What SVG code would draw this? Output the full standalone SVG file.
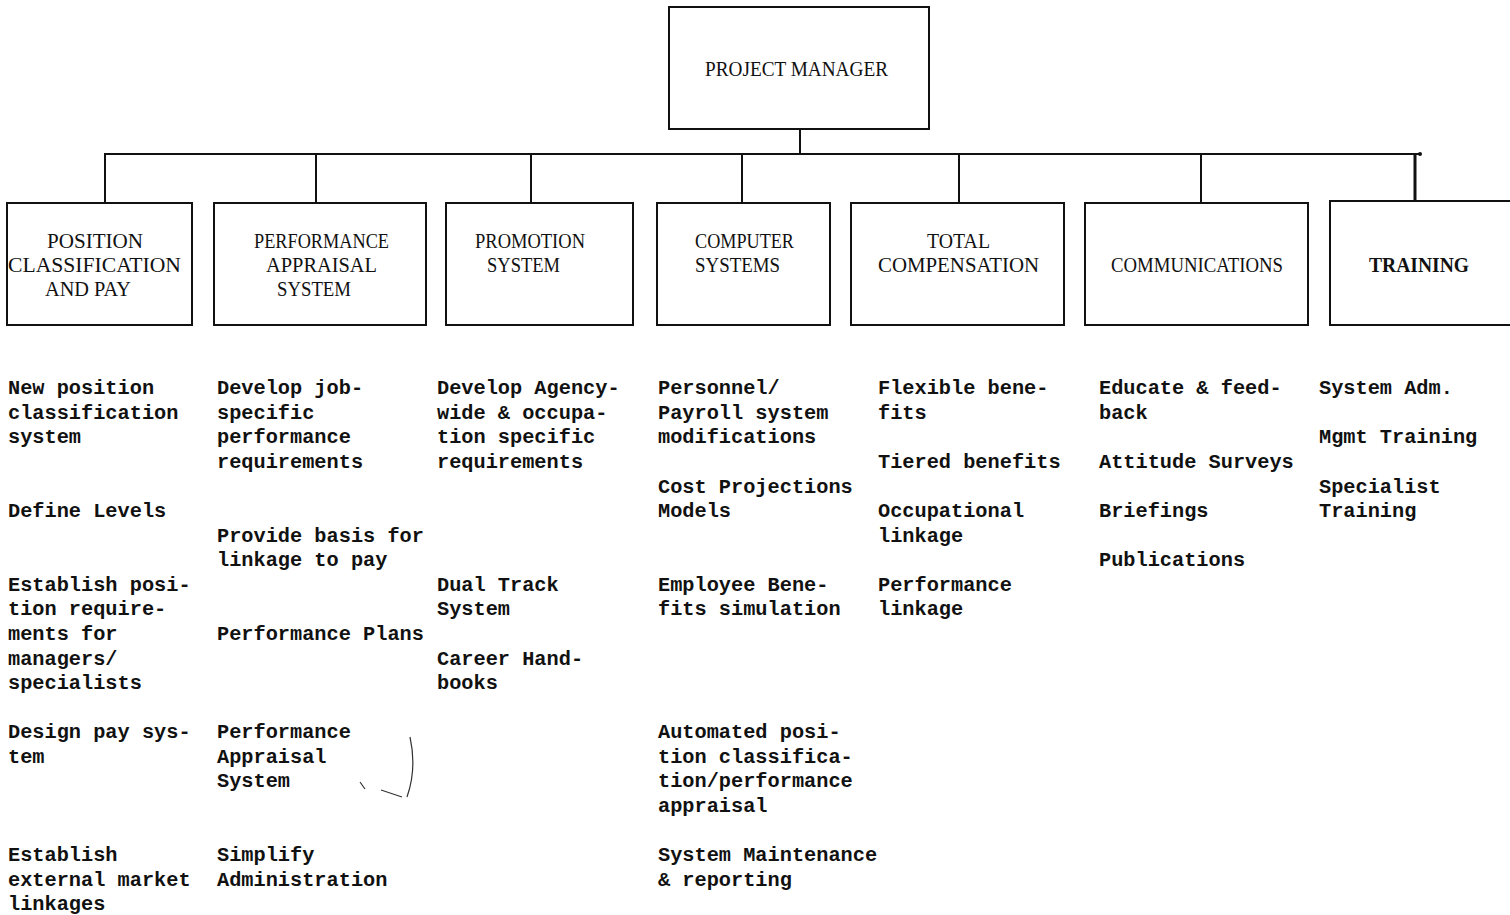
<svg xmlns="http://www.w3.org/2000/svg" width="1510" height="915" viewBox="0 0 1510 915">
<style>
.box{fill:#fff;stroke:#111;stroke-width:2}
.ln{stroke:#111;stroke-width:2;fill:none}
.t{font-family:"Liberation Serif","Times New Roman",serif;font-size:21px;fill:#111}
.b{font-family:"Liberation Mono","Courier New",monospace;font-size:20.3px;font-weight:bold;fill:#111}
</style>
<rect width="1510" height="915" fill="#fff"/>
<g id="connectors">
<line class="ln" x1="800" y1="129" x2="800" y2="154"/>
<line class="ln" x1="104" y1="154" x2="1421" y2="154"/>
<circle cx="1420" cy="154" r="2" fill="#111"/>
<line class="ln" x1="105" y1="154" x2="105" y2="203"/>
<line class="ln" x1="316" y1="154" x2="316" y2="203"/>
<line class="ln" x1="531" y1="154" x2="531" y2="203"/>
<line class="ln" x1="742" y1="154" x2="742" y2="203"/>
<line class="ln" x1="959" y1="154" x2="959" y2="203"/>
<line class="ln" x1="1201" y1="154" x2="1201" y2="203"/>
<line class="ln" x1="1415" y1="154" x2="1415" y2="200" style="stroke-width:3"/>
</g>
<g id="project-manager">
<rect class="box" x="669" y="7" width="260" height="122"/>
<text class="t" x="705" y="76" textLength="183" lengthAdjust="spacingAndGlyphs">PROJECT MANAGER</text>
</g>
<g id="position-classification">
<rect class="box" x="7" y="203" width="185" height="122"/>
<text class="t" x="47" y="248" textLength="96" lengthAdjust="spacingAndGlyphs">POSITION</text>
<text class="t" x="8" y="272" textLength="173" lengthAdjust="spacingAndGlyphs">CLASSIFICATION</text>
<text class="t" x="45" y="296" textLength="86" lengthAdjust="spacingAndGlyphs">AND PAY</text>
</g>
<g id="performance-appraisal">
<rect class="box" x="214" y="203" width="212" height="122"/>
<text class="t" x="254" y="248" textLength="135" lengthAdjust="spacingAndGlyphs">PERFORMANCE</text>
<text class="t" x="266" y="272" textLength="111" lengthAdjust="spacingAndGlyphs">APPRAISAL</text>
<text class="t" x="277" y="296" textLength="74" lengthAdjust="spacingAndGlyphs">SYSTEM</text>
</g>
<g id="promotion-system">
<rect class="box" x="446" y="203" width="187" height="122"/>
<text class="t" x="475" y="248" textLength="110" lengthAdjust="spacingAndGlyphs">PROMOTION</text>
<text class="t" x="487" y="272" textLength="73" lengthAdjust="spacingAndGlyphs">SYSTEM</text>
</g>
<g id="computer-systems">
<rect class="box" x="657" y="203" width="173" height="122"/>
<text class="t" x="695" y="248" textLength="99" lengthAdjust="spacingAndGlyphs">COMPUTER</text>
<text class="t" x="695" y="272" textLength="85" lengthAdjust="spacingAndGlyphs">SYSTEMS</text>
</g>
<g id="total-compensation">
<rect class="box" x="851" y="203" width="213" height="122"/>
<text class="t" x="927" y="248" textLength="63" lengthAdjust="spacingAndGlyphs">TOTAL</text>
<text class="t" x="878" y="272" textLength="161" lengthAdjust="spacingAndGlyphs">COMPENSATION</text>
</g>
<g id="communications">
<rect class="box" x="1085" y="203" width="223" height="122"/>
<text class="t" x="1111" y="272" textLength="172" lengthAdjust="spacingAndGlyphs">COMMUNICATIONS</text>
</g>
<g id="training">
<path class="ln" d="M1512,201 L1330,201 L1330,325 L1512,325"/>
<text class="t" x="1369" y="272" textLength="100" lengthAdjust="spacingAndGlyphs" style="font-weight:bold">TRAINING</text>
</g>
<g id="col1">
<text class="b" x="8" y="394">New position</text>
<text class="b" x="8" y="419">classification</text>
<text class="b" x="8" y="443">system</text>
<text class="b" x="8" y="517">Define Levels</text>
<text class="b" x="8" y="591">Establish posi-</text>
<text class="b" x="8" y="615">tion require-</text>
<text class="b" x="8" y="640">ments for</text>
<text class="b" x="8" y="665">managers/</text>
<text class="b" x="8" y="689">specialists</text>
<text class="b" x="8" y="738">Design pay sys-</text>
<text class="b" x="8" y="763">tem</text>
<text class="b" x="8" y="861">Establish</text>
<text class="b" x="8" y="886">external market</text>
<text class="b" x="8" y="910">linkages</text>
</g>
<g id="col2">
<text class="b" x="217" y="394">Develop job-</text>
<text class="b" x="217" y="419">specific</text>
<text class="b" x="217" y="443">performance</text>
<text class="b" x="217" y="468">requirements</text>
<text class="b" x="217" y="542">Provide basis for</text>
<text class="b" x="217" y="566">linkage to pay</text>
<text class="b" x="217" y="640">Performance Plans</text>
<text class="b" x="217" y="738">Performance</text>
<text class="b" x="217" y="763">Appraisal</text>
<text class="b" x="217" y="787">System</text>
<text class="b" x="217" y="861">Simplify</text>
<text class="b" x="217" y="886">Administration</text>
<path d="M410,737 C414,755 414,777 407,797 M381,790 L402,797 M360,782 L365,789" fill="none" stroke="#333" stroke-width="1.2"/>
</g>
<g id="col3">
<text class="b" x="437" y="394">Develop Agency-</text>
<text class="b" x="437" y="419">wide &amp; occupa-</text>
<text class="b" x="437" y="443">tion specific</text>
<text class="b" x="437" y="468">requirements</text>
<text class="b" x="437" y="591">Dual Track</text>
<text class="b" x="437" y="615">System</text>
<text class="b" x="437" y="665">Career Hand-</text>
<text class="b" x="437" y="689">books</text>
</g>
<g id="col4">
<text class="b" x="658" y="394">Personnel/</text>
<text class="b" x="658" y="419">Payroll system</text>
<text class="b" x="658" y="443">modifications</text>
<text class="b" x="658" y="493">Cost Projections</text>
<text class="b" x="658" y="517">Models</text>
<text class="b" x="658" y="591">Employee Bene-</text>
<text class="b" x="658" y="615">fits simulation</text>
<text class="b" x="658" y="738">Automated posi-</text>
<text class="b" x="658" y="763">tion classifica-</text>
<text class="b" x="658" y="787">tion/performance</text>
<text class="b" x="658" y="812">appraisal</text>
<text class="b" x="658" y="861">System Maintenance</text>
<text class="b" x="658" y="886">&amp; reporting</text>
</g>
<g id="col5">
<text class="b" x="878" y="394">Flexible bene-</text>
<text class="b" x="878" y="419">fits</text>
<text class="b" x="878" y="468">Tiered benefits</text>
<text class="b" x="878" y="517">Occupational</text>
<text class="b" x="878" y="542">linkage</text>
<text class="b" x="878" y="591">Performance</text>
<text class="b" x="878" y="615">linkage</text>
</g>
<g id="col6">
<text class="b" x="1099" y="394">Educate &amp; feed-</text>
<text class="b" x="1099" y="419">back</text>
<text class="b" x="1099" y="468">Attitude Surveys</text>
<text class="b" x="1099" y="517">Briefings</text>
<text class="b" x="1099" y="566">Publications</text>
</g>
<g id="col7">
<text class="b" x="1319" y="394">System Adm.</text>
<text class="b" x="1319" y="443">Mgmt Training</text>
<text class="b" x="1319" y="493">Specialist</text>
<text class="b" x="1319" y="517">Training</text>
</g>
</svg>
